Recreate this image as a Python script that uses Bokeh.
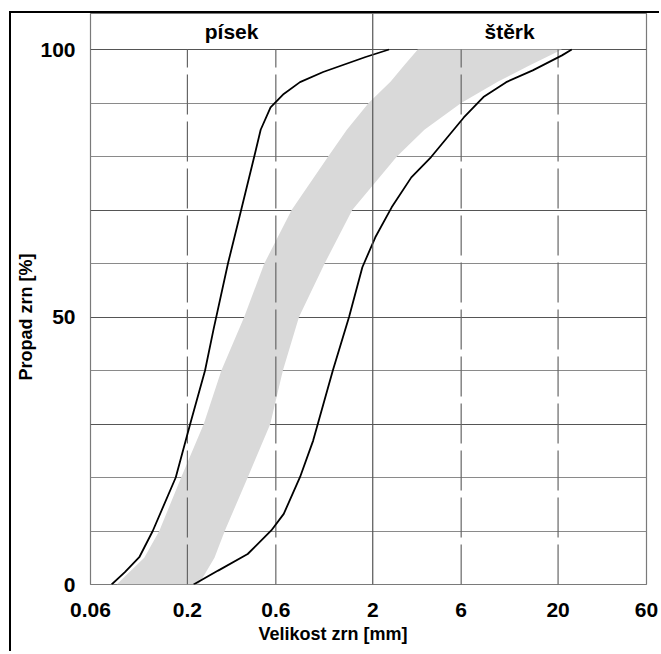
import numpy as np
from bokeh.plotting import figure
from bokeh.models import Range1d, FixedTicker, Grid, Span, Title, ColumnDataSource
from bokeh.core.properties import value
from bokeh.embed import file_html
from bokeh.resources import INLINE

# ---- data ----
x_ticks = [0.06, 0.2, 0.6, 2, 6, 20, 60]
x_tick_labels = ["0.06", "0.2", "0.6", "2", "6", "20", "60"]
y_ticks = [0, 50, 100]
dashed_x = [0.2, 0.6, 6, 20]
solid_x = [2]
light_y = [10, 20, 40, 60, 80, 90]
dark_y = [30, 50, 70, 100]
zone_names = ["písek", "štěrk"]
zone_bounds = [0.06, 2, 60]
x_title = "Velikost zrn [mm]"
y_title = "Propad zrn [%]"

fine_x = [0.078, 0.092, 0.110, 0.130, 0.173, 0.207, 0.249, 0.276, 0.331, 0.390,
          0.459, 0.497, 0.562, 0.662, 0.81, 1.08, 1.83, 2.45]
fine_y = [0, 2.3, 5.1, 10, 20, 30, 40, 47.5, 60, 70,
          80, 85, 89.2, 91.7, 93.9, 95.8, 98.6, 100]

coarse_x = [0.216, 0.293, 0.423, 0.567, 0.662, 0.811, 0.954, 1.218, 1.49, 1.758,
            2.065, 2.53, 3.23, 4.13, 6.2, 7.91, 10.5, 14.6, 21.0, 23.7]
coarse_y = [0, 2.6, 5.7, 10.1, 13.2, 20.1, 26.9, 40, 50, 59.3,
            64.9, 70.5, 76.1, 79.9, 87.3, 91.1, 93.9, 96.1, 98.9, 100]

band_y = [0, 5, 10, 20, 30, 40, 50, 60, 70, 80, 85, 90, 94, 97, 100]
band_left = [0.083, 0.117, 0.141, 0.185, 0.245, 0.305, 0.405, 0.52, 0.73, 1.15,
             1.45, 1.9, 2.5, 2.95, 3.5]
band_right = [0.23, 0.28, 0.318, 0.423, 0.56, 0.655, 0.80, 1.10, 1.55, 2.7,
              3.8, 6.0, 9.5, 14.0, 21.0]

# ---- figure ----
FONT = "Liberation Sans"
Y_TOP = 106.73  # header band above 100 %

p = figure(width=650, height=640, x_axis_type="log",
           x_range=Range1d(0.06, 60), y_range=Range1d(0, Y_TOP),
           output_backend="svg", toolbar_location=None,
           min_border_left=69, min_border_right=15,
           min_border_top=0, min_border_bottom=69)
p.styles = {"border-left": "2px solid black", "border-top": "2px solid black",
            "margin-top": "11px", "margin-left": "9px"}
p.background_fill_color = "white"
p.border_fill_color = "white"
p.outline_line_color = "#7a7a7a"
p.outline_line_width = 1.2

# grids
p.xgrid.visible = False
p.ygrid.visible = False
p.add_layout(Grid(dimension=1, ticker=FixedTicker(ticks=light_y),
                  grid_line_color="#8a8a8a", grid_line_width=1))
p.add_layout(Grid(dimension=1, ticker=FixedTicker(ticks=dark_y),
                  grid_line_color="#555555", grid_line_width=1.2))

# band
p.harea(y=band_y, x1=band_left, x2=band_right, fill_color="#d9d9d9", fill_alpha=1)

# vertical lines
p.segment(x0=dashed_x, y0=[0] * len(dashed_x), x1=dashed_x, y1=[100] * len(dashed_x),
          line_color="#666666", line_width=1.2, line_dash="40 7")
for sx in solid_x:
    p.add_layout(Span(location=sx, dimension="height", line_color="#555555", line_width=1.2))

# curves
p.line(fine_x, fine_y, line_color="black", line_width=1.8)
p.line(coarse_x, coarse_y, line_color="black", line_width=1.8)

# header labels
zone_cx = [np.sqrt(zone_bounds[i] * zone_bounds[i + 1]) for i in range(len(zone_names))]
hdr = ColumnDataSource(dict(x=zone_cx, y=[(100 + Y_TOP) / 2] * len(zone_names), t=zone_names))
p.text(x="x", y="y", text="t", source=hdr, text_align="center", text_baseline="middle",
       text_font=value(FONT), text_font_style="bold", text_font_size="21px", text_color="black")

# axes
p.xaxis.ticker = FixedTicker(ticks=x_ticks)
p.xaxis.major_label_overrides = {t: l for t, l in zip(x_ticks, x_tick_labels)}
p.yaxis.ticker = FixedTicker(ticks=y_ticks)
for ax in (p.xaxis, p.yaxis):
    ax.axis_line_color = None
    ax.major_tick_line_color = None
    ax.minor_tick_line_color = None
    ax.major_label_text_font = FONT
    ax.major_label_text_font_style = "bold"
    ax.major_label_text_font_size = "21px"
    ax.major_label_text_color = "black"
p.xaxis.major_label_standoff = 12
p.yaxis.major_label_standoff = 9

# axis titles (offset along the axis as in the reference)
p.add_layout(Title(text=x_title, align="left", offset=168, standoff=4,
                   text_font=FONT, text_font_style="bold", text_font_size="18px",
                   text_color="black"), "below")
p.add_layout(Title(text=y_title, align="left", offset=204, standoff=4,
                   text_font=FONT, text_font_style="bold", text_font_size="18px",
                   text_color="black"), "left")

open("out.html", "w").write(file_html(p, INLINE))
